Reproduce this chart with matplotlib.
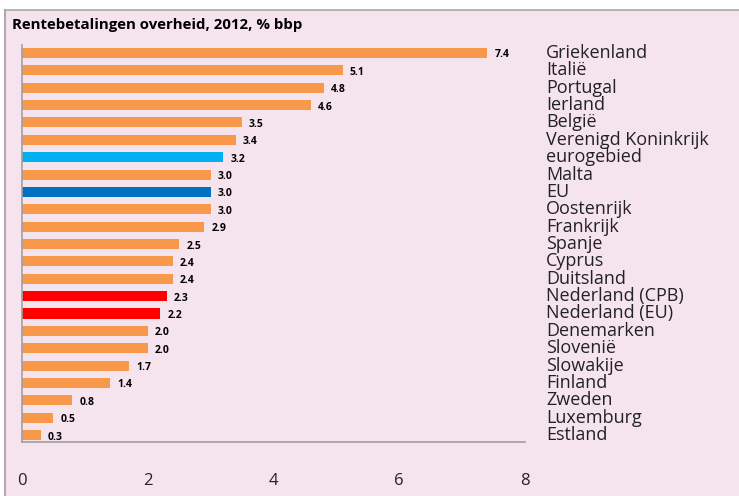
import matplotlib.pyplot as plt
import matplotlib.patches as patches
from matplotlib.lines import Line2D

# Data
countries = ['Griekenland', 'Italië', 'Portugal', 'Ierland', 'België', 'Verenigd Koninkrijk',
             'eurogebied', 'Malta', 'EU', 'Oostenrijk', 'Frankrijk', 'Spanje', 'Cyprus',
             'Duitsland', 'Nederland (CPB)', 'Nederland (EU)', 'Denemarken', 'Slovenië',
             'Slowakije', 'Finland', 'Zweden', 'Luxemburg', 'Estland']
values = [7.4, 5.1, 4.8, 4.6, 3.5, 3.4, 3.2, 3.0, 3.0, 3.0, 2.9, 2.5, 2.4, 2.4,
          2.3, 2.2, 2.0, 2.0, 1.7, 1.4, 0.8, 0.5, 0.3]
value_labels = ['7.4', '5.1', '4.8', '4.6', '3.5', '3.4', '3.2', '3.0', '3.0', '3.0', '2.9',
                '2.5', '2.4', '2.4', '2.3', '2.2', '2.0', '2.0', '1.7', '1.4', '0.8', '0.5', '0.3']
x_ticks = [0, 2, 4, 6, 8]

orange = '#F7984A'
highlight = {'eurogebied': '#00B0F0', 'EU': '#0070C0',
             'Nederland (CPB)': '#FF0000', 'Nederland (EU)': '#FF0000'}
colors = [highlight.get(c, orange) for c in countries]

bg = '#F5E4EE'
W, H = 739, 496

fig = plt.figure(figsize=(W / 100, H / 100), dpi=100)
fig.patch.set_facecolor('white')

# pink panel with grey frame lines
fig.patches.append(patches.Rectangle((5 / W, 0), 1, 1 - 10 / H, transform=fig.transFigure,
                                     facecolor=bg, edgecolor='none', zorder=-10))
fig.lines.append(Line2D([5 / W, 5 / W], [0, 1 - 10 / H], transform=fig.transFigure,
                        color='#b0a8ac', lw=1.5, zorder=-5))
fig.lines.append(Line2D([5 / W, 1], [1 - 10 / H, 1 - 10 / H], transform=fig.transFigure,
                        color='#a8a8a8', lw=1.2, zorder=-5))

fig.text(12 / W, 1 - 25 / H, 'Rentebetalingen overheid, 2012, % bbp', fontsize=10.8,
         fontweight='bold', family='Open Sans', va='center', ha='left')

ax = fig.add_axes([22 / W, 1 - 442 / H, (525 - 22) / W, (442 - 45) / H])
ax.set_facecolor('none')

ypos = list(range(len(countries)))
ax.barh(ypos, values, height=0.58, color=colors)
ax.set_xlim(0, 8)
ax.set_ylim(len(countries) - 1 + 0.4, -0.46)

for y, v, lab in zip(ypos, values, value_labels):
    ax.annotate(lab, (v, y), xytext=(7, -2), textcoords='offset pixels', va='center',
                ha='left', fontsize=7.5, fontweight='bold', family='Open Sans')

for y, c in zip(ypos, countries):
    ax.annotate(c, (1, y), xycoords=('axes fraction', 'data'), xytext=(21, 0),
                textcoords='offset pixels', va='center', ha='left', fontsize=13,
                family='Open Sans', color='#222222', annotation_clip=False)

for s in ['top', 'right']:
    ax.spines[s].set_visible(False)
ax.spines['left'].set_color('#a0a0a0')
ax.spines['bottom'].set_color('#a0a0a0')
ax.spines['left'].set_linewidth(1.2)
ax.spines['bottom'].set_linewidth(1.2)

ax.set_yticks([])
ax.set_xticks(x_ticks)
ax.set_xticklabels([str(t) for t in x_ticks], fontsize=12, family='Open Sans', color='#222222')
ax.tick_params(axis='x', length=0, pad=22)

fig.savefig('out.png', dpi=100, facecolor=fig.get_facecolor())
